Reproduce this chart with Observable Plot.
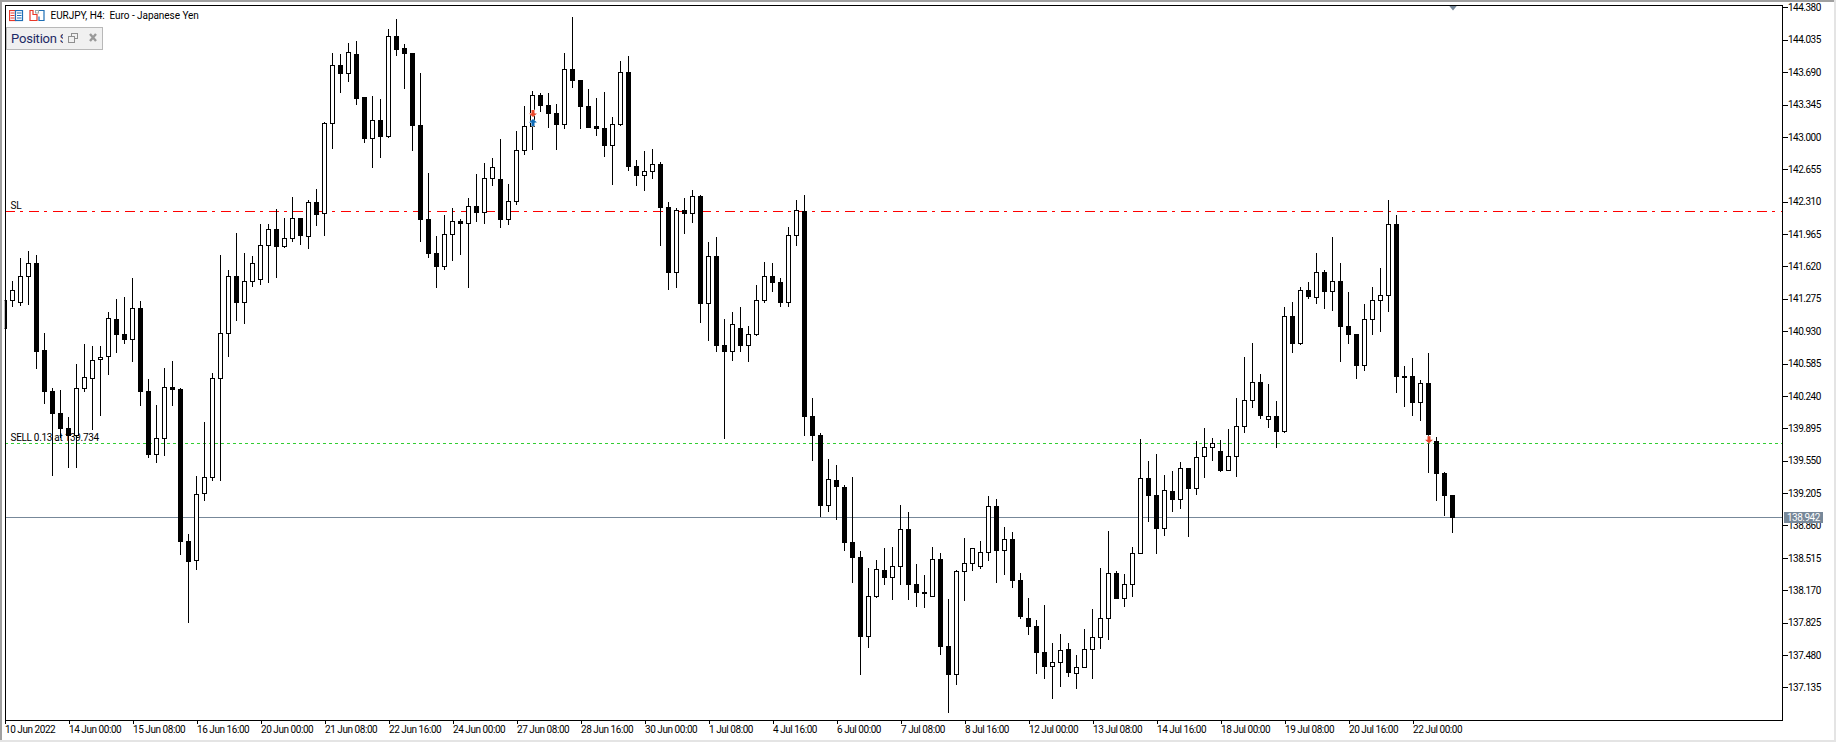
<!DOCTYPE html>
<html>
<head>
<meta charset="utf-8">
<script src="https://cdn.jsdelivr.net/npm/d3@7"></script>
<script src="https://cdn.jsdelivr.net/npm/@observablehq/plot@0.6"></script>
<style>
html,body{margin:0;padding:0;background:#fff;overflow:hidden}
#wrap{position:relative;width:1836px;height:742px;overflow:hidden;font-family:Roboto,sans-serif}
#wrap svg{display:block}
.abs{position:absolute}
#wrap svg g[aria-label="x-axis tick label"] text{letter-spacing:-0.45px}
#wrap svg g[aria-label="y-axis tick label"] text{letter-spacing:-0.5px}
#wrap svg g[aria-label="text"] text{letter-spacing:-0.3px}
</style>
</head>
<body>
<div id="wrap"></div>
<script>
const opens = [
140.960,141.259,141.237,141.514,141.653,140.719,140.289,140.058,139.895,139.817,
140.321,140.427,140.626,140.658,141.056,140.896,140.843,141.173,140.289,139.614,
139.788,140.332,140.310,138.691,138.488,139.202,139.373,140.427,140.907,141.514,
141.234,141.458,141.479,141.845,142.015,141.831,141.919,142.132,141.937,142.303,
142.186,143.145,143.763,143.678,143.880,143.415,142.985,143.177,143.003,144.072,
143.944,143.891,143.123,142.122,141.759,141.617,141.962,142.100,142.079,142.260,
142.193,142.559,142.548,142.118,142.310,142.857,143.113,143.443,143.337,143.251,
143.131,143.720,143.603,143.326,143.106,143.091,142.907,143.131,143.688,142.687,
142.587,142.630,142.708,142.250,141.553,142.218,142.182,142.367,141.223,141.727,
140.779,140.712,140.960,140.776,140.893,141.255,141.514,141.450,141.234,141.951,
142.207,140.023,139.820,139.074,139.341,139.266,138.680,138.520,137.675,138.101,
138.381,138.307,138.424,138.818,138.232,138.147,138.101,138.499,137.572,137.270,
138.371,138.456,138.421,138.573,139.064,138.595,138.712,138.275,137.870,137.785,
137.508,137.359,137.401,137.540,137.284,137.348,137.540,137.668,137.870,138.350,
138.083,138.232,138.563,139.362,139.181,138.826,139.223,139.138,139.468,139.255,
139.596,139.692,139.650,139.447,139.596,139.916,140.193,140.385,139.987,140.023,
139.863,141.088,140.800,141.365,141.291,141.557,141.355,141.461,140.982,140.896,
140.566,141.056,141.259,141.312,142.068,140.449,140.449,140.172,140.374,139.756,
139.415,139.181];
const highs = [
141.255,141.465,141.706,141.781,141.738,140.907,140.321,140.303,140.015,140.580,
140.790,140.772,140.772,141.131,141.269,141.291,141.493,141.248,140.417,140.143,
140.534,140.612,140.321,138.769,139.387,139.962,140.481,141.738,141.578,141.973,
141.759,141.727,142.068,142.068,142.228,142.132,142.356,142.132,142.324,142.441,
143.159,143.891,143.880,143.997,144.019,143.422,143.432,143.401,144.146,144.253,
143.987,143.891,143.678,142.612,141.941,142.164,142.239,142.122,142.346,142.601,
142.719,142.772,142.974,142.495,143.063,143.326,143.486,143.464,143.464,143.347,
143.891,144.274,143.603,143.507,143.411,143.475,143.209,143.805,143.859,142.750,
142.846,142.868,142.729,142.303,142.239,142.346,142.431,142.378,141.877,141.930,
141.056,141.131,141.184,140.982,141.418,141.664,141.653,141.493,142.037,142.324,
142.378,140.214,139.841,139.564,139.500,139.287,139.373,138.584,138.403,138.488,
138.616,138.627,139.074,139.000,138.446,138.328,138.627,138.563,138.073,138.381,
138.723,138.616,138.691,139.170,139.138,138.840,138.787,138.350,138.083,137.849,
138.009,137.604,137.700,137.604,137.476,137.753,137.966,138.403,138.797,138.371,
138.339,138.627,139.777,139.543,139.618,139.394,139.436,139.532,139.468,139.756,
139.895,139.788,139.767,139.884,140.214,140.651,140.800,140.470,140.364,140.182,
141.184,141.237,141.397,141.450,141.759,141.578,141.930,141.653,141.344,140.896,
141.216,141.397,141.600,142.324,142.164,140.555,140.641,140.406,140.694,139.799,
139.426,139.181];
const lows = [
140.960,141.191,141.202,141.209,140.531,140.158,139.390,139.788,139.476,139.476,
140.285,139.877,140.030,140.467,140.701,140.793,140.605,140.136,139.582,139.529,
139.600,140.136,138.548,137.824,138.389,139.124,139.337,139.337,140.658,141.038,
141.006,141.404,141.422,141.443,141.500,141.813,141.884,141.848,141.809,142.054,
141.948,142.875,143.472,143.589,143.344,142.939,142.672,142.779,142.992,143.866,
143.514,142.853,141.884,141.713,141.394,141.578,141.681,141.742,141.394,142.097,
142.076,142.481,142.033,142.065,142.278,142.811,142.864,143.266,143.099,142.864,
143.088,143.525,143.088,143.099,143.013,142.790,142.491,143.120,142.640,142.481,
142.427,142.555,141.841,141.372,141.394,141.969,142.086,141.021,140.829,140.712,
139.785,140.616,140.712,140.605,140.882,141.234,141.351,141.191,141.191,141.841,
139.817,139.550,138.946,139.007,138.921,138.591,138.250,137.270,137.557,138.090,
138.229,138.069,138.229,138.069,137.994,137.984,138.101,137.483,136.865,137.163,
138.058,138.378,138.399,138.485,138.250,138.335,138.197,137.866,137.696,137.280,
137.227,137.014,137.142,137.248,137.121,137.348,137.227,137.547,137.643,138.080,
137.994,138.101,138.552,138.900,138.559,138.751,139.007,139.039,138.740,139.188,
139.369,139.550,139.433,139.436,139.380,139.849,140.115,139.998,139.902,139.689,
139.849,140.701,140.786,141.276,141.223,141.170,141.149,140.605,140.797,140.424,
140.509,140.893,140.925,141.138,140.275,140.126,140.030,139.976,139.422,139.124,
138.964,138.783];
const closes = [
141.255,141.362,141.514,141.653,140.712,140.285,140.051,139.891,139.817,140.321,
140.438,140.619,140.651,141.067,140.893,140.840,141.173,140.285,139.614,139.788,
140.332,140.307,138.687,138.474,139.191,139.373,140.427,140.907,141.514,141.234,
141.458,141.653,141.845,142.015,141.831,141.919,142.132,141.948,142.303,142.172,
143.145,143.763,143.674,143.901,143.408,142.981,143.177,143.003,144.072,143.930,
143.887,143.120,142.118,141.756,141.617,141.962,142.100,142.079,142.260,142.193,
142.559,142.676,142.118,142.314,142.857,143.113,143.443,143.333,143.248,143.131,
143.720,143.599,143.322,143.099,143.088,142.907,143.134,143.688,142.683,142.587,
142.633,142.708,142.246,141.553,142.218,142.182,142.367,141.223,141.727,140.776,
140.712,141.003,140.776,140.896,141.259,141.514,141.447,141.234,141.951,142.218,
140.019,139.817,139.071,139.351,139.273,138.676,138.517,137.675,138.101,138.392,
138.303,138.424,138.818,138.229,138.144,138.133,138.499,137.568,137.270,138.371,
138.456,138.616,138.573,139.064,138.591,138.712,138.271,137.888,137.781,137.504,
137.355,137.398,137.525,137.291,137.344,137.540,137.668,137.870,138.350,138.080,
138.232,138.563,139.362,139.177,138.826,139.234,139.135,139.468,139.252,139.586,
139.692,139.735,139.444,139.596,139.916,140.193,140.385,140.030,140.019,139.859,
141.088,140.800,141.365,141.298,141.557,141.351,141.461,140.978,140.893,140.562,
141.056,141.259,141.312,142.068,140.445,140.435,140.168,140.374,139.824,139.412,
139.177,138.942];

const priceTicks = [144.380,144.035,143.690,143.345,143.000,142.655,142.310,141.965,141.620,141.275,140.930,140.585,140.240,139.895,139.550,139.205,138.860,138.515,138.170,137.825,137.480,137.135];
const timeLabels = ["10 Jun 2022","14 Jun 00:00","15 Jun 08:00","16 Jun 16:00","20 Jun 00:00","21 Jun 08:00","22 Jun 16:00","24 Jun 00:00","27 Jun 08:00","28 Jun 16:00","30 Jun 00:00","1 Jul 08:00","4 Jul 16:00","6 Jul 00:00","7 Jul 08:00","8 Jul 16:00","12 Jul 00:00","13 Jul 08:00","14 Jul 16:00","18 Jul 00:00","19 Jul 08:00","20 Jul 16:00","22 Jul 00:00"];
const timeTicks = timeLabels.map((_, k) => k * 8);

const stopLoss = 142.208;
const entry = 139.734;
const lastPrice = 138.942;
const sellMarks = [{i: 66, price: 143.255}, {i: 178, price: 139.779}];
const buyMarks = [{i: 66, price: 143.159}];

const candles = opens.map((open, i) => ({i, open, high: highs[i], low: lows[i], close: closes[i]}));
const up = candles.filter(d => d.close >= d.open);
const down = candles.filter(d => d.close < d.open);

const downArrow = {draw(c){c.moveTo(-1.5,-3.5);c.lineTo(1.5,-3.5);c.lineTo(1.5,0);c.lineTo(4,0);c.lineTo(0,3.5);c.lineTo(-4,0);c.lineTo(-1.5,0);c.closePath();}};
const upArrow = {draw(c){c.moveTo(-1.5,3.5);c.lineTo(1.5,3.5);c.lineTo(1.5,0);c.lineTo(4,0);c.lineTo(0,-3.5);c.lineTo(-4,0);c.lineTo(-1.5,0);c.closePath();}};
const shiftMark = {draw(c){c.moveTo(-4.5,0);c.lineTo(4.5,0);c.lineTo(0,5.5);c.closePath();}};

const crisp = {shapeRendering: "crispEdges"};
const axisFont = {fontFamily: "Roboto, sans-serif", fontSize: 10, fill: "#000"};

const plot = Plot.plot({
  width: 1836, height: 742,
  marginLeft: 4.5, marginRight: 54.5, marginTop: 4.5, marginBottom: 22.5,
  style: {background: "transparent", fontFamily: "Roboto, sans-serif", overflow: "visible"},
  x: {type: "linear", domain: [0, 222.125], axis: null},
  y: {type: "linear", domain: [136.792, 144.411], axis: null},
  marks: [
    Plot.ruleY([stopLoss], {stroke: "#ff0000", strokeWidth: 1, strokeDasharray: "10,5,3,6", dy: -0.5, ...crisp}),
    Plot.ruleY([entry], {stroke: "#32cd32", strokeWidth: 1, strokeDasharray: "3,3", dy: -0.5, ...crisp}),
    Plot.ruleY([lastPrice], {stroke: "#778899", strokeWidth: 1, dy: -0.5, ...crisp}),
    Plot.text(["SL"], {y: stopLoss, frameAnchor: "left", dx: 5.5, dy: -6, text: d => d, textAnchor: "start", fill: "#000", fontSize: 10}),
    Plot.text(["SELL 0.13 at 139.734"], {y: entry, frameAnchor: "left", dx: 5.5, dy: -6, text: d => d, textAnchor: "start", fill: "#000", fontSize: 10}),
    Plot.ruleX(candles, {x: "i", y1: "low", y2: "high", stroke: "#000", strokeWidth: 1, dx: -0.5, clip: true, ...crisp}),
    Plot.rect(up, {x1: d => d.i - 0.25, x2: d => d.i + 0.25, y1: "open", y2: "close", fill: "#fff", stroke: "#000", strokeWidth: 1, clip: true, ...crisp}),
    Plot.rect(down, {x1: d => d.i - 0.25, x2: d => d.i + 0.25, y1: "open", y2: "close", fill: "#000", stroke: "#000", strokeWidth: 1, clip: true, ...crisp}),
    Plot.dot(sellMarks, {x: "i", y: "price", symbol: downArrow, r: 4, fill: "#e8462a", stroke: "#fff", strokeWidth: 1, paintOrder: "stroke"}),
    Plot.dot(buyMarks, {x: "i", y: "price", symbol: upArrow, r: 4, fill: "#0f6cb8", stroke: "#fff", strokeWidth: 1, paintOrder: "stroke"}),
    Plot.dot([181], {x: d => d, frameAnchor: "top", symbol: shiftMark, r: 4, fill: "#778899", stroke: "none"}),
    Plot.frame({stroke: "#000", strokeWidth: 1, ...crisp}),
    Plot.axisX(timeTicks, {anchor: "bottom", label: null, tickSize: 4, tickPadding: 2, textAnchor: "start", tickFormat: v => timeLabels[v / 8], stroke: "#000", ...crisp, ...axisFont, tickRotate: 0}),
    Plot.axisY(priceTicks, {anchor: "right", label: null, tickSize: 5, tickPadding: 1, tickFormat: v => v.toFixed(3), stroke: "#000", ...crisp, ...axisFont})
  ]
});

const wrap = document.getElementById("wrap");
plot.style.position = "absolute";
plot.style.left = "0";
plot.style.top = "0";
wrap.appendChild(plot);

function overlay(html, css) {
  const el = document.createElement("div");
  el.className = "abs";
  el.style.cssText = css;
  el.innerHTML = html;
  wrap.appendChild(el);
  return el;
}
// window chrome
overlay("", "left:0;top:0;width:1836px;height:2px;background:#a0a0a0");
overlay("", "left:0;top:0;width:2px;height:742px;background:#a0a0a0");
overlay("", "left:1834px;top:0;width:2px;height:742px;background:#e4e4e4");
overlay("", "left:0;top:740px;width:1836px;height:2px;background:#e4e4e4");

// title row
overlay(`<svg width="40" height="14" viewBox="0 0 40 14">
<rect x="0.5" y="0.5" width="6" height="10" fill="#fff" stroke="#e8392a" stroke-width="1.2"/>
<path d="M1.5 3h4M1.5 5.5h4M1.5 8h4" stroke="#e8392a" stroke-width="1.2"/>
<rect x="6.5" y="0.5" width="7" height="10" fill="#fff" stroke="#1f6fb5" stroke-width="1.2"/>
<path d="M8 3h4.5M8 5.5h4.5M8 8h4.5" stroke="#1f6fb5" stroke-width="1.2"/>
<path d="M21 .5h3v4h4v6h-7z" fill="#fff" stroke="#e8392a" stroke-width="1.2"/>
<path d="M28 .5h7v10h-5v-4" fill="#fff" stroke="#1f6fb5" stroke-width="1.2"/>
<rect x="26.5" y=".5" width="3" height="2.5" fill="#fff" stroke="#9aa"/>
</svg>`, "left:9px;top:10px;width:40px;height:14px");
overlay("EURJPY, H4:&nbsp; Euro - Japanese Yen", "left:50.5px;top:9px;font:10px/14px Roboto,sans-serif;letter-spacing:-0.05px;color:#000;white-space:nowrap");

// tool panel
overlay(`<div style="position:absolute;left:4px;top:2px;width:52px;height:18px;overflow:hidden;white-space:nowrap;font:13px/18px Roboto,sans-serif;letter-spacing:-0.2px;color:#1d2a66">Position S</div>
<svg width="36" height="14" viewBox="0 0 36 14" style="position:absolute;left:60px;top:5px">
<rect x="4.5" y="0.5" width="6" height="5" fill="none" stroke="#8f8f8f"/><rect x="1.5" y="3.5" width="6" height="6" fill="#f0f0f0" stroke="#8f8f8f"/>
<path d="M23 1l6 7M29 1l-6 7" stroke="#999" stroke-width="2.4" fill="none"/>
</svg>`, "left:6px;top:27px;width:97px;height:23px;background:#f0f0f0;border:1px solid #b8b8b8;box-sizing:border-box;outline:0");

// current price tag, placed through the y scale
const yLast = plot.scale("y").apply(lastPrice);
overlay(lastPrice.toFixed(3), `left:1784px;top:${yLast - 5.5}px;width:39px;height:11px;background:#778899;color:#fff;font:10px/11px Roboto,sans-serif;letter-spacing:-0.5px;padding-left:3px;box-sizing:border-box`);
</script>
</body>
</html>
